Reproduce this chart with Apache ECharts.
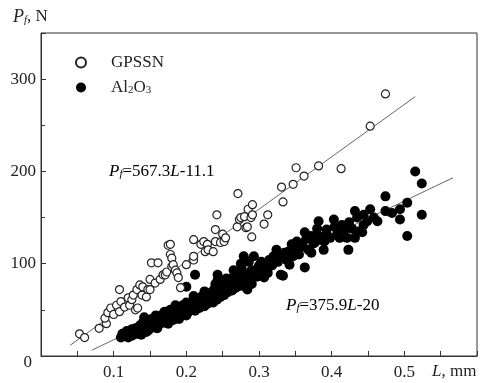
<!DOCTYPE html>
<html>
<head>
<meta charset="utf-8">
<script src="https://cdn.jsdelivr.net/npm/echarts@6/dist/echarts.min.js"></script>
<style>
  html, body { margin: 0; padding: 0; background: #fff; }
  #chart { width: 495px; height: 383px; }
</style>
</head>
<body>
<div id="chart"></div>
<script>
// GPSSN, [L mm, Pf N]
const gpssnPoints = [
  [0.053, 24], [0.06, 20], [0.08, 30], [0.09, 35], [0.088, 41], [0.092, 47], [0.096, 52], [0.1, 45],
  [0.104, 55], [0.108, 48], [0.108, 72], [0.11, 59], [0.115, 53], [0.12, 63], [0.122, 55], [0.125, 61],
  [0.127, 66], [0.13, 50], [0.132, 72], [0.133, 52], [0.136, 77], [0.139, 66], [0.14, 75], [0.145, 64],
  [0.147, 72], [0.15, 83], [0.15, 72], [0.152, 101], [0.157, 79], [0.161, 101], [0.164, 83], [0.168, 88],
  [0.171, 88], [0.173, 91], [0.175, 120], [0.178, 110], [0.178, 121], [0.18, 97], [0.18, 106], [0.182, 99],
  [0.185, 93], [0.187, 90], [0.189, 85], [0.192, 74], [0.2, 99], [0.21, 126], [0.21, 104], [0.21, 108],
  [0.22, 121], [0.224, 124], [0.226, 113], [0.229, 121], [0.23, 115], [0.237, 113], [0.24, 124], [0.24, 137],
  [0.242, 153], [0.247, 123], [0.25, 132], [0.252, 124], [0.254, 128], [0.27, 140], [0.271, 176], [0.273, 148],
  [0.275, 150], [0.28, 151], [0.282, 139], [0.284, 140], [0.285, 159], [0.289, 150], [0.29, 129], [0.291, 164],
  [0.291, 153], [0.307, 143], [0.312, 153], [0.331, 183], [0.333, 167], [0.347, 186], [0.351, 204], [0.362, 195],
  [0.382, 206], [0.413, 203], [0.453, 249], [0.474, 284]
]

// Al2O3
const aluminaPoints = [
  [0.11, 20], [0.112, 24], [0.115, 22], [0.118, 27], [0.12, 20], [0.122, 25], [0.125, 29], [0.125, 22],
  [0.128, 26], [0.13, 30], [0.132, 24], [0.135, 28], [0.136, 33], [0.138, 23], [0.14, 30], [0.14, 36],
  [0.142, 42], [0.145, 32], [0.147, 38], [0.148, 28], [0.15, 34], [0.152, 40], [0.155, 36], [0.157, 31],
  [0.158, 44], [0.16, 38], [0.162, 34], [0.165, 40], [0.167, 45], [0.168, 36], [0.17, 42], [0.172, 38],
  [0.175, 46], [0.177, 41], [0.178, 50], [0.18, 44], [0.182, 39], [0.185, 48], [0.187, 52], [0.188, 44],
  [0.19, 50], [0.192, 46], [0.195, 55], [0.197, 49], [0.2, 53], [0.2, 58], [0.202, 47], [0.205, 56],
  [0.207, 51], [0.21, 60], [0.21, 54], [0.212, 49], [0.215, 62], [0.217, 57], [0.218, 52], [0.22, 64],
  [0.222, 59], [0.225, 54], [0.227, 66], [0.228, 61], [0.23, 57], [0.232, 68], [0.235, 63], [0.237, 58],
  [0.238, 72], [0.24, 66], [0.242, 61], [0.243, 75], [0.245, 69], [0.247, 64], [0.25, 79], [0.25, 72],
  [0.252, 66], [0.255, 74], [0.257, 69], [0.26, 83], [0.261, 77], [0.263, 71], [0.265, 86], [0.266, 80],
  [0.268, 74], [0.27, 91], [0.272, 88], [0.272, 82], [0.275, 76], [0.276, 95], [0.278, 85], [0.279, 108],
  [0.28, 79], [0.282, 88], [0.284, 72], [0.286, 102], [0.288, 83], [0.289, 92], [0.29, 78], [0.293, 108],
  [0.293, 93], [0.297, 86], [0.3, 98], [0.303, 102], [0.305, 94], [0.307, 85], [0.31, 96], [0.312, 90],
  [0.314, 104], [0.318, 98], [0.32, 108], [0.324, 115], [0.326, 102], [0.33, 108], [0.33, 88], [0.333, 87],
  [0.335, 112], [0.338, 104], [0.34, 113], [0.342, 99], [0.345, 121], [0.347, 108], [0.35, 117], [0.352, 124],
  [0.355, 110], [0.358, 118], [0.36, 122], [0.363, 134], [0.363, 96], [0.365, 127], [0.368, 115], [0.372, 130],
  [0.372, 112], [0.375, 122], [0.377, 123], [0.38, 138], [0.382, 146], [0.382, 130], [0.385, 126], [0.389, 115],
  [0.39, 124], [0.393, 137], [0.393, 132], [0.398, 128], [0.403, 148], [0.404, 140], [0.408, 134], [0.411, 128],
  [0.414, 142], [0.418, 137], [0.421, 128], [0.423, 115], [0.424, 145], [0.428, 138], [0.432, 157], [0.432, 128],
  [0.435, 150], [0.437, 135], [0.442, 134], [0.444, 153], [0.444, 142], [0.449, 146], [0.453, 159], [0.458, 150],
  [0.463, 146], [0.474, 173], [0.474, 157], [0.483, 155], [0.494, 159], [0.494, 148], [0.504, 166], [0.504, 130],
  [0.515, 200], [0.524, 187], [0.524, 153],
  [0.2, 75], [0.212, 88], [0.243, 88], [0.243, 82],
  [0.145, 26], [0.16, 30], [0.175, 35], [0.19, 40], [0.2, 44], [0.17, 48], [0.185, 55], [0.21, 65],
  [0.225, 70], [0.24, 78], [0.255, 84], [0.265, 93], [0.275, 100]
]

// fitted lines Pf = a*L + b, drawn over [from, to]
const gpssnFit = { a: 567.3, b: -11.1, from: 0.04, to: 0.515 }
const aluminaFit = { a: 375.9, b: -20, from: 0.07, to: 0.567 }

const xLabels = [0.1, 0.2, 0.3, 0.4, 0.5]
const yLabels = [0, 100, 200, 300]

const FONT = "Liberation Serif"
const INK = "#222"

function fitLine(f) {
  return [
    [f.from, f.a * f.from + f.b],
    [f.to, f.a * f.to + f.b]
  ]
}

const subStyle = { fontSize: 11, fontFamily: FONT, fontWeight: "normal", color: INK, lineHeight: 6, verticalAlign: "bottom" }
const itStyle = { fontSize: 17, fontFamily: FONT, fontStyle: "italic", fontWeight: "normal", color: INK }
const rmStyle = { fontSize: 17, fontFamily: FONT, fontWeight: "normal", color: INK }

const chart = echarts.init(document.getElementById("chart"))

const option = {
  backgroundColor: "#fff",
  animation: false,
  title: {
    text: "{i|P}{s|f}{n|, N}",
    left: 8,
    top: 3,
    textStyle: {
      fontWeight: "normal",
      rich: { i: { ...itStyle, fontSize: 18 }, s: { ...subStyle, fontStyle: "italic" }, n: rmStyle }
    }
  },
  legend: {
    orient: "vertical",
    left: 70,
    top: 49,
    itemWidth: 10,
    itemHeight: 10,
    itemGap: 8,
    data: [
      { name: "GPSSN", icon: "circle" },
      { name: "Al2O3", icon: "circle" }
    ],
    formatter: (name) => (name === "Al2O3" ? "{n|Al}{s|2}{n|O}{s|3}" : "{n|GPSSN}"),
    textStyle: {
      padding: [0, 0, 0, 20],
      rich: { n: rmStyle, s: subStyle }
    }
  },
  grid: {
    left: 41,
    right: 18,
    top: 33,
    bottom: 27,
    show: true,
    borderColor: "#333",
    borderWidth: 1
  },
  xAxis: {
    type: "value",
    min: 0,
    max: 0.6,
    interval: 0.1,
    name: "{i|L}{n|, mm}",
    nameLocation: "end",
    nameGap: -45,
    nameTextStyle: {
      verticalAlign: "top",
      padding: [7, 0, 0, 0],
      rich: { i: itStyle, n: rmStyle }
    },
    axisLine: { lineStyle: { color: "#333", width: 1 } },
    axisTick: { inside: true, length: 5, lineStyle: { color: "#333" } },
    minorTick: { show: true, splitNumber: 2, length: 5, lineStyle: { color: "#333" } },
    splitLine: { show: false },
    axisLabel: {
      margin: 8,
      fontFamily: FONT,
      fontSize: 17,
      color: INK,
      formatter: (v) => (xLabels.some((t) => Math.abs(t - v) < 1e-6) ? v.toFixed(1) : "")
    }
  },
  yAxis: {
    type: "value",
    min: 0,
    max: 350,
    interval: 100,
    axisLine: { lineStyle: { color: "#333", width: 1 } },
    axisTick: { inside: true, length: 5, lineStyle: { color: "#333" } },
    minorTick: { show: true, splitNumber: 2, length: 4, lineStyle: { color: "#333" } },
    splitLine: { show: false },
    axisLabel: {
      margin: 5,
      fontFamily: FONT,
      fontSize: 17,
      color: INK,
      formatter: (v) => (yLabels.includes(v) ? (v === 0 ? "{z|0}" : String(v)) : ""),
      rich: { z: { fontFamily: FONT, fontSize: 17, color: INK, padding: [14, 4, 0, 0] } }
    }
  },
  graphic: [
    {
      type: "text",
      left: 109,
      top: 163,
      style: {
        text: "{i|P}{s|f}{n|=567.3}{i|L}{n|-11.1}",
        rich: { i: itStyle, s: { ...subStyle, fontStyle: "italic" }, n: rmStyle }
      }
    },
    {
      type: "text",
      left: 286,
      top: 297,
      style: {
        text: "{i|P}{s|f}{n|=375.9}{i|L}{n|-20}",
        rich: { i: itStyle, s: { ...subStyle, fontStyle: "italic" }, n: rmStyle }
      }
    }
  ],
  series: [
    {
      name: "fitGPSSN",
      type: "line",
      data: fitLine(gpssnFit),
      symbol: "none",
      lineStyle: { color: "#666", width: 1 },
      silent: true,
      z: 1
    },
    {
      name: "fitAl2O3",
      type: "line",
      data: fitLine(aluminaFit),
      symbol: "none",
      lineStyle: { color: "#666", width: 1 },
      silent: true,
      z: 1
    },
    {
      name: "GPSSN",
      type: "scatter",
      data: gpssnPoints,
      symbol: "circle",
      symbolSize: 8,
      itemStyle: { color: "#fff", borderColor: "#222", borderWidth: 1.2, opacity: 1 },
      z: 3
    },
    {
      name: "Al2O3",
      type: "scatter",
      data: aluminaPoints,
      symbol: "circle",
      symbolSize: 10,
      itemStyle: { color: "#000", opacity: 1 },
      z: 2
    }
  ]
}

chart.setOption(option)
</script>
</body>
</html>
